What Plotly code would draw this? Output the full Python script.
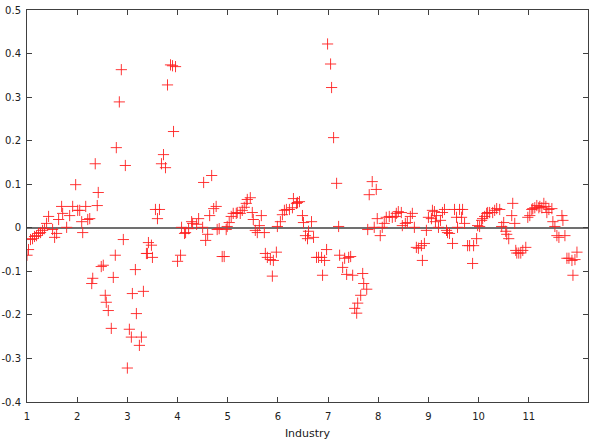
import plotly.graph_objects as go

industry_x = [
    1.00, 1.03, 1.07, 1.11, 1.15, 1.19, 1.23, 1.27, 1.31, 1.35, 1.39, 1.43, 1.51, 1.55, 1.59, 1.63,
    1.69, 1.71, 1.79, 1.85, 1.91, 1.97, 2.01, 2.05, 2.09, 2.11, 2.17, 2.21, 2.25, 2.29, 2.31, 2.36,
    2.40, 2.42, 2.48, 2.52, 2.56, 2.58, 2.62, 2.68, 2.72, 2.76, 2.78, 2.84, 2.88, 2.92, 2.96, 3.00,
    3.04, 3.08, 3.10, 3.16, 3.18, 3.24, 3.28, 3.32, 3.38, 3.40, 3.42, 3.48, 3.50, 3.56, 3.60, 3.64,
    3.68, 3.72, 3.76, 3.80, 3.86, 3.90, 3.92, 3.96, 4.00, 4.06, 4.08, 4.14, 4.16, 4.22, 4.28, 4.30,
    4.38, 4.42, 4.50, 4.52, 4.56, 4.60, 4.64, 4.68, 4.72, 4.77, 4.79, 4.83, 4.89, 4.93, 4.97, 4.99,
    5.03, 5.07, 5.11, 5.17, 5.19, 5.25, 5.29, 5.33, 5.37, 5.39, 5.45, 5.49, 5.51, 5.55, 5.59, 5.63,
    5.67, 5.73, 5.75, 5.79, 5.85, 5.89, 5.91, 5.97, 5.99, 6.05, 6.09, 6.13, 6.17, 6.23, 6.29, 6.31,
    6.37, 6.39, 6.43, 6.49, 6.51, 6.55, 6.59, 6.61, 6.67, 6.71, 6.77, 6.81, 6.87, 6.89, 6.93, 6.97,
    6.99, 7.05, 7.07, 7.11, 7.17, 7.21, 7.23, 7.29, 7.33, 7.37, 7.41, 7.45, 7.49, 7.53, 7.57, 7.59,
    7.65, 7.69, 7.71, 7.77, 7.79, 7.82, 7.88, 7.92, 7.96, 7.98, 8.04, 8.08, 8.12, 8.16, 8.22, 8.28,
    8.34, 8.36, 8.40, 8.46, 8.48, 8.54, 8.58, 8.64, 8.68, 8.72, 8.76, 8.80, 8.86, 8.88, 8.92, 8.96,
    9.00, 9.06, 9.08, 9.12, 9.14, 9.16, 9.20, 9.24, 9.28, 9.32, 9.36, 9.38, 9.42, 9.48, 9.52, 9.56,
    9.58, 9.62, 9.66, 9.68, 9.72, 9.78, 9.82, 9.88, 9.90, 9.96, 9.98, 10.02, 10.06, 10.08, 10.12, 10.16,
    10.18, 10.22, 10.28, 10.32, 10.36, 10.42, 10.46, 10.50, 10.54, 10.56, 10.60, 10.66, 10.68, 10.72, 10.74, 10.76,
    10.80, 10.84, 10.88, 10.94, 10.98, 11.02, 11.06, 11.08, 11.12, 11.16, 11.20, 11.22, 11.26, 11.30, 11.34, 11.36,
    11.40, 11.46, 11.48, 11.52, 11.56, 11.60, 11.66, 11.68, 11.72, 11.76, 11.80, 11.86, 11.88, 11.92, 11.96,
]

values = [
    -0.063, -0.050, -0.027, -0.025, -0.020, -0.018, -0.013, -0.011, -0.006, -0.002, 0.010, 0.026, -0.004, -0.022, -0.013, 0.019,
    0.049, 0.033, 0.001, 0.028, 0.049, 0.099, 0.040, 0.040, 0.014, -0.011, 0.049, 0.019, 0.021, -0.128, -0.116, 0.147,
    0.051, 0.081, -0.089, -0.086, -0.155, -0.171, -0.190, -0.231, -0.114, -0.063, 0.184, 0.289, 0.363, -0.027, 0.143, -0.322,
    -0.233, -0.251, -0.151, -0.096, -0.197, -0.270, -0.251, -0.146, -0.059, -0.059, -0.034, -0.040, -0.068, 0.042, 0.021, 0.042,
    0.147, 0.168, 0.138, 0.328, 0.374, 0.372, 0.221, 0.370, -0.077, -0.063, 0.001, -0.013, -0.011, -0.002, 0.014, 0.010,
    0.008, 0.021, 0.001, 0.104, -0.029, -0.015, 0.028, 0.120, 0.044, 0.049, -0.004, -0.002, -0.066, -0.066, -0.004, 0.003,
    0.012, 0.026, 0.033, 0.033, 0.035, 0.033, 0.040, 0.047, 0.056, 0.065, 0.069, 0.035, 0.019, -0.006, -0.011, 0.005,
    0.028, -0.011, -0.059, -0.068, -0.073, -0.111, -0.075, -0.056, 0.003, 0.014, 0.030, 0.040, 0.042, 0.042, 0.046, 0.067,
    0.056, 0.058, 0.060, 0.028, 0.012, -0.018, -0.025, -0.008, 0.014, -0.022, -0.068, -0.068, -0.068, -0.109, -0.075, -0.050,
    0.422, 0.376, 0.322, 0.207, 0.102, 0.003, -0.063, -0.091, -0.070, -0.107, -0.068, -0.066, -0.109, -0.185, -0.196, -0.173,
    -0.155, -0.105, -0.128, -0.141, -0.004, 0.076, 0.106, 0.001, 0.088, 0.021, -0.018, 0.001, 0.010, 0.024, 0.026, 0.024,
    0.026, 0.033, 0.037, 0.035, 0.005, 0.010, 0.012, 0.026, 0.033, 0.001, -0.045, -0.047, -0.041, -0.075, -0.036, -0.006,
    0.024, 0.021, 0.040, 0.037, 0.014, 0.028, 0.001, 0.017, 0.035, 0.042, -0.006, -0.011, -0.013, -0.036, 0.042, 0.024,
    0.001, 0.042, 0.024, 0.042, 0.010, -0.041, -0.041, -0.082, -0.041, -0.025, 0.005, 0.003, 0.017, 0.021, 0.026, 0.033,
    0.035, 0.035, 0.035, 0.040, 0.044, 0.042, 0.003, 0.012, -0.008, -0.015, -0.025, 0.028, 0.056, 0.010, -0.052, -0.058,
    -0.058, -0.058, -0.052, -0.045, 0.024, 0.028, 0.042, 0.044, 0.046, 0.051, 0.046, 0.049, 0.046, 0.056, 0.049, 0.035,
    0.042, 0.044, 0.014, 0.003, -0.018, -0.022, 0.028, 0.017, -0.018, -0.070, -0.070, -0.075, -0.109, -0.073, -0.056,
]

x_ticks = [1, 2, 3, 4, 5, 6, 7, 8, 9, 10, 11]
y_ticks = [-0.4, -0.3, -0.2, -0.1, 0, 0.1, 0.2, 0.3, 0.4, 0.5]
y_tick_labels = ["-0.4", "-0.3", "-0.2", "-0.1", "0", "0.1", "0.2", "0.3", "0.4", "0.5"]

fig = go.Figure()
fig.add_trace(go.Scatter(
    x=industry_x, y=values, mode="markers",
    marker=dict(symbol="cross-thin", size=8, color="#ff2020",
                line=dict(color="#ff2020", width=0.9)),
    showlegend=False,
))

axis_common = dict(
    showline=True, linecolor="#404040", linewidth=1, mirror="ticks",
    ticks="inside", ticklen=5, tickcolor="#404040", tickwidth=1,
    showgrid=False, automargin=False,
    tickfont=dict(family="DejaVu Sans", size=10, color="#202020"),
)

fig.update_layout(
    width=594, height=440,
    margin=dict(l=27, r=6, t=10, b=38),
    paper_bgcolor="white", plot_bgcolor="white",
    xaxis=dict(range=[1, 12.18], tickvals=x_ticks, zeroline=False,
               ticklabelstandoff=5,
               title=dict(text="Industry", standoff=9,
                          font=dict(family="DejaVu Sans", size=11, color="#202020")),
               **axis_common),
    yaxis=dict(range=[-0.4, 0.5], tickvals=y_ticks, ticktext=y_tick_labels,
               ticklabelstandoff=3,
               zeroline=True, zerolinecolor="#707070", zerolinewidth=1.5,
               **axis_common),
)

fig.write_html("out.html")
